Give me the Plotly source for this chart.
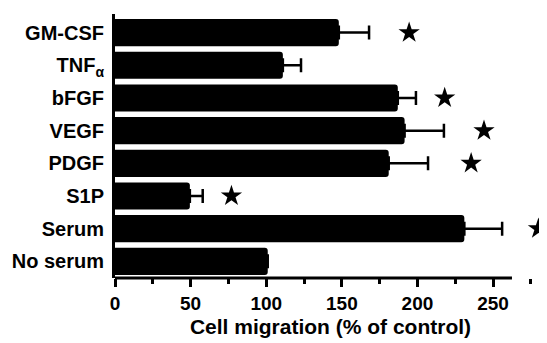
import plotly.graph_objects as go

categories = ["GM-CSF", "TNF<sub>α</sub>", "bFGF", "VEGF", "PDGF", "S1P", "Serum", "No serum"]
migration = [148, 111, 187, 191.5, 181, 49.5, 231, 101]
sem = [20, 12, 12, 26, 26, 8.5, 25, 0]
star_cats = ["GM-CSF", "bFGF", "VEGF", "PDGF", "S1P", "Serum"]
star_x = [194.5, 218, 244, 235.5, 77, 280]
x_ticks = [0, 50, 100, 150, 200, 250]
axis_end = 262.5

FONT = "Liberation Sans, Arial, sans-serif"

fig = go.Figure()
fig.add_trace(go.Bar(
    y=categories, x=migration, orientation="h",
    marker=dict(color="black", line=dict(width=0)),
    error_x=dict(type="data", symmetric=False, array=sem,
                 arrayminus=[0] * len(sem), color="black",
                 thickness=2.5, width=7),
    showlegend=False,
))
fig.add_trace(go.Scatter(
    y=star_cats, x=star_x, mode="markers",
    marker=dict(symbol="star", size=16, color="black"),
    cliponaxis=False, showlegend=False,
))

# x-axis line stops at the end of the scale (stars extend beyond)
fig.add_shape(type="line", xref="x", yref="paper", x0=0, x1=axis_end, y0=0, y1=0,
              line=dict(color="black", width=3))

# page body has an 8px margin; figure is sized to fill the rest of the window
fig.update_layout(
    width=539, height=335,
    margin=dict(l=107, r=1, t=6, b=65, autoexpand=False),
    paper_bgcolor="white", plot_bgcolor="white",
    bargap=0.17, barcornerradius=3,
    font=dict(family=FONT, color="black"),
)
fig.update_xaxes(
    range=[0, 285], tickvals=x_ticks, ticktext=[f"<b>{v}</b>" for v in x_ticks],
    showgrid=False, zeroline=False, showline=False, automargin=False,
    ticks="outside", ticklen=8, tickwidth=3, tickcolor="black",
    minor=dict(dtick=25, tick0=0, ticks="outside", ticklen=5, tickwidth=3, tickcolor="black"),
    tickfont=dict(family=FONT, size=19, color="black"),
    title=dict(text="<b>Cell migration (% of control)</b>",
               font=dict(family=FONT, size=21, color="black"), standoff=6),
)
fig.update_yaxes(
    type="category", categoryorder="array", categoryarray=categories,
    range=[7.51, -0.57], automargin=False,
    showgrid=False, zeroline=False,
    showline=True, linecolor="black", linewidth=3,
    ticks="", ticklabelstandoff=4,
    ticktext=[f"<b>{c}</b>" for c in categories], tickvals=categories,
    tickfont=dict(family=FONT, size=20, color="black"),
)

fig.write_html("out.html")
